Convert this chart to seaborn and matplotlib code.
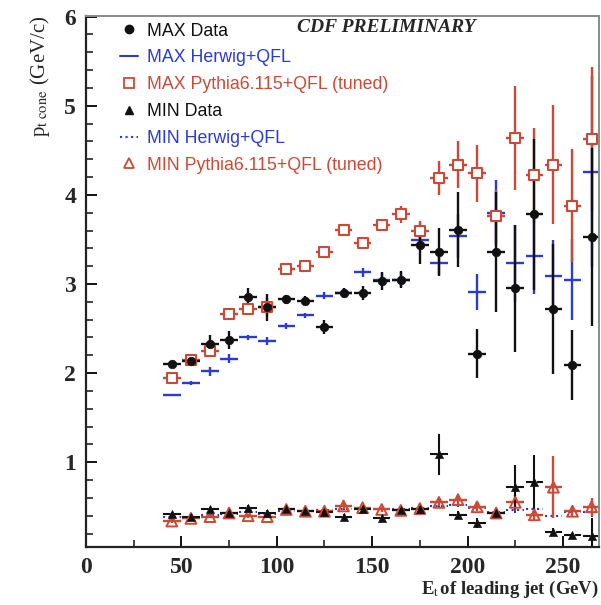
import matplotlib

matplotlib.use("Agg")
import matplotlib.pyplot as plt
import numpy as np
import pandas as pd
import seaborn as sns
from matplotlib.lines import Line2D
from matplotlib.ticker import MultipleLocator

# E_t bin centres (GeV)
et = [45, 55, 65, 75, 85, 95, 105, 115, 125, 135, 145, 155,
      165, 175, 185, 195, 205, 215, 225, 235, 245, 255, 265]

# MAX cone
max_data = [2.10, 2.14, 2.33, 2.37, 2.85, 2.74, 2.83, 2.81, 2.52, 2.90, 2.90, 3.03,
            3.05, 3.44, 3.36, 3.61, 2.22, 3.36, 2.95, 3.78, 2.72, 2.09, 3.53]
max_data_err = [0.04, 0.06, 0.10, 0.10, 0.10, 0.15, 0.05, 0.05, 0.08, 0.06, 0.08, 0.10,
                0.10, 0.22, 0.27, 0.42, 0.27, 0.67, 0.71, 0.85, 0.73, 0.39, 1.00]
max_herwig = [1.75, 1.89, 2.02, 2.16, 2.40, 2.36, 2.53, 2.65, 2.87, 2.90, 3.13, 3.05,
              3.05, 3.49, 3.23, 3.54, 2.91, 3.80, 3.23, 3.31, 3.09, 3.05, 4.26]
max_herwig_err = [0.01, 0.02, 0.05, 0.05, 0.03, 0.05, 0.03, 0.03, 0.04, 0.05, 0.05, 0.07,
                  0.08, 0.08, 0.13, 0.25, 0.20, 0.37, 0.43, 0.42, 0.40, 0.45, 1.07]
max_pythia = [1.94, 2.15, 2.25, 2.66, 2.72, 2.74, 3.17, 3.20, 3.36, 3.61, 3.46, 3.66,
              3.78, 3.59, 4.19, 4.34, 4.24, 3.76, 4.64, 4.22, 4.34, 3.88, 4.63]
max_pythia_err = [0.03, 0.04, 0.05, 0.04, 0.05, 0.10, 0.04, 0.04, 0.05, 0.05, 0.06, 0.06,
                  0.09, 0.12, 0.19, 0.26, 0.32, 0.30, 0.58, 0.53, 0.67, 0.63, 0.81]

# MIN cone
min_data = [0.42, 0.39, 0.47, 0.43, 0.49, 0.43, 0.47, 0.45, 0.44, 0.39, 0.48, 0.37,
            0.46, 0.47, 1.09, 0.41, 0.32, 0.43, 0.72, 0.78, 0.22, 0.18, 0.17]
min_data_err = [0.02, 0.02, 0.03, 0.02, 0.03, 0.03, 0.02, 0.02, 0.03, 0.03, 0.03, 0.04,
                0.03, 0.04, 0.23, 0.04, 0.06, 0.05, 0.25, 0.30, 0.04, 0.03, 0.20]
min_herwig = [0.39, 0.37, 0.41, 0.42, 0.44, 0.42, 0.45, 0.45, 0.46, 0.47, 0.48, 0.47,
              0.48, 0.49, 0.51, 0.52, 0.49, 0.44, 0.46, 0.47, 0.40, 0.44, 0.44]
min_herwig_err = [0.01, 0.01, 0.01, 0.01, 0.01, 0.01, 0.01, 0.01, 0.01, 0.01, 0.01, 0.01,
                  0.01, 0.01, 0.02, 0.02, 0.02, 0.03, 0.03, 0.03, 0.03, 0.04, 0.05]
min_pythia = [0.34, 0.37, 0.39, 0.43, 0.40, 0.39, 0.47, 0.45, 0.45, 0.51, 0.49, 0.47,
              0.46, 0.48, 0.55, 0.58, 0.50, 0.43, 0.55, 0.41, 0.72, 0.45, 0.50]
min_pythia_err = [0.02, 0.02, 0.02, 0.02, 0.02, 0.02, 0.02, 0.02, 0.02, 0.03, 0.03, 0.03,
                  0.03, 0.03, 0.04, 0.05, 0.05, 0.05, 0.08, 0.06, 0.35, 0.06, 0.10]

labels = ["MAX Data", "MAX Herwig+QFL", "MAX Pythia6.115+QFL (tuned)",
          "MIN Data", "MIN Herwig+QFL", "MIN Pythia6.115+QFL (tuned)"]

BLACK = "#111111"
BLUE = "#2b3ad2"
RED = "#cc4a35"
XHALF = 4.6

sns.set_theme(style="ticks")
plt.rcParams["font.family"] = ["Liberation Serif", "DejaVu Serif"]
plt.rcParams["mathtext.fontset"] = "stix"

fig, ax = plt.subplots(figsize=(6.01, 6.05), dpi=100)
fig.subplots_adjust(left=0.143, right=0.997, top=0.974, bottom=0.096)


def bars(y, err, color, ls="-", lw=1.7):
    eb = ax.errorbar(et, y, yerr=err, xerr=XHALF, fmt="none", ecolor=color,
                     elinewidth=lw, capsize=0, zorder=2)
    if ls != "-":
        eb[2][0].set_linestyle(ls)
    return eb


# MIN series first (underneath)
bars(min_herwig, min_herwig_err, BLUE, ls=":", lw=1.5)
bars(min_pythia, min_pythia_err, RED)
bars(min_data, min_data_err, BLACK, ls="--", lw=1.5)
sns.scatterplot(x=et, y=min_pythia, marker="^", s=60, facecolor="none",
                edgecolor=RED, linewidth=1.4, ax=ax, zorder=3)
sns.scatterplot(x=et, y=min_data, marker="^", s=34, color=BLACK,
                edgecolor=BLACK, ax=ax, zorder=4)

# MAX series
bars(max_herwig, max_herwig_err, BLUE)
bars(max_pythia, max_pythia_err, RED)
bars(max_data, max_data_err, BLACK)
sns.scatterplot(x=et, y=max_pythia, marker="s", s=60, facecolor="white",
                edgecolor=RED, linewidth=1.5, ax=ax, zorder=3)
sns.scatterplot(x=et, y=max_data, marker="o", s=38, color=BLACK,
                edgecolor=BLACK, ax=ax, zorder=4)

ax.set_xlim(0, 269)
ax.set_ylim(0.05, 6.01)
ax.xaxis.set_major_locator(MultipleLocator(50))
ax.xaxis.set_minor_locator(MultipleLocator(25))
ax.yaxis.set_major_locator(MultipleLocator(1))
ax.yaxis.set_minor_locator(MultipleLocator(0.2))
ax.tick_params(which="both", direction="in", top=False, right=False, color=BLACK)
ax.tick_params(which="major", length=8, width=1.4, labelsize=17, pad=7)
ax.tick_params(which="minor", length=5, width=1.1)
ax.set_yticks([1, 2, 3, 4, 5, 6])
for lab in ax.get_xticklabels() + ax.get_yticklabels():
    lab.set_fontweight("bold")

for side in ["left", "bottom"]:
    ax.spines[side].set_color("#222222")
    ax.spines[side].set_linewidth(1.6)
for side in ["top", "right"]:
    ax.spines[side].set_color("#8a8a8a")
    ax.spines[side].set_linewidth(1.4)

ax.set_ylabel(r"p$_{\rm t\ cone}$ (GeV/c)", fontsize=15, loc="top", labelpad=9)
ax.set_xlabel(r"E$_{\rm t\,}$of leading jet (GeV)", fontsize=13.5, loc="right",
              fontweight="bold", labelpad=1)

ax.text(0.585, 0.977, "CDF PRELIMINARY", transform=ax.transAxes, fontsize=14,
        fontweight="bold", fontstyle="italic", ha="center", va="center")

handles = [
    Line2D([], [], ls="none", marker="o", color=BLACK, markersize=6),
    Line2D([], [], ls="-", color=BLUE, lw=1.5),
    Line2D([], [], ls="none", marker="s", mfc="none", mec=RED, markersize=7, mew=1.3),
    Line2D([], [], ls="none", marker="^", color=BLACK, markersize=6),
    Line2D([], [], ls=":", color=BLUE, lw=1.5),
    Line2D([], [], ls="none", marker="^", mfc="none", mec=RED, markersize=7, mew=1.3),
]
leg = ax.legend(handles, labels, loc="upper left", bbox_to_anchor=(0.035, 1.017),
                frameon=False, handlelength=1.0, handletextpad=0.55, labelspacing=0.55,
                prop={"family": ["Liberation Sans", "DejaVu Sans"], "size": 12.8})
for txt, col in zip(leg.get_texts(), [BLACK, BLUE, RED, BLACK, BLUE, RED]):
    txt.set_color(col)

fig.savefig("out.png", dpi=100)
